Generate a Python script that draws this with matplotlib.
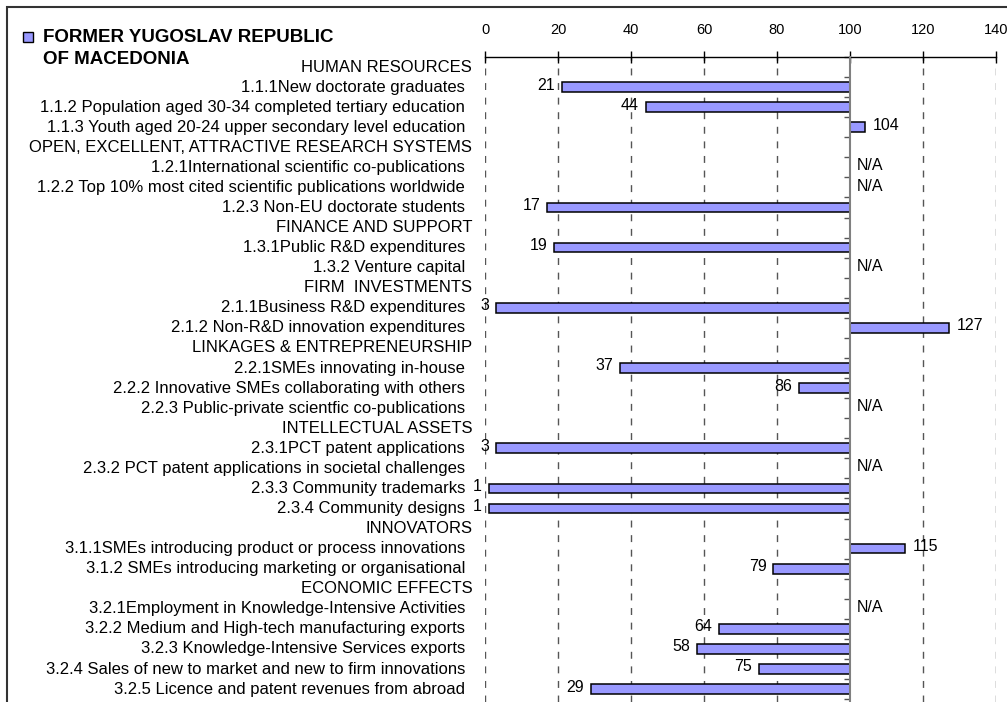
import numpy as np
import matplotlib
matplotlib.use("Agg")
import matplotlib.pyplot as plt
import matplotlib.transforms as mtransforms
from matplotlib.patches import Rectangle

plt.rcParams["font.family"] = ["Liberation Sans", "DejaVu Sans"]

# rows from top to bottom; headers carry no value, None marks N/A
row_labels = [
    "HUMAN RESOURCES",
    "1.1.1New doctorate graduates",
    "1.1.2 Population aged 30-34 completed tertiary education",
    "1.1.3 Youth aged 20-24 upper secondary level education",
    "OPEN, EXCELLENT, ATTRACTIVE RESEARCH SYSTEMS",
    "1.2.1International scientific co-publications",
    "1.2.2 Top 10% most cited scientific publications worldwide",
    "1.2.3 Non-EU doctorate students",
    "FINANCE AND SUPPORT",
    "1.3.1Public R&D expenditures",
    "1.3.2 Venture capital",
    "FIRM  INVESTMENTS",
    "2.1.1Business R&D expenditures",
    "2.1.2 Non-R&D innovation expenditures",
    "LINKAGES & ENTREPRENEURSHIP",
    "2.2.1SMEs innovating in-house",
    "2.2.2 Innovative SMEs collaborating with others",
    "2.2.3 Public-private scientfic co-publications",
    "INTELLECTUAL ASSETS",
    "2.3.1PCT patent applications",
    "2.3.2 PCT patent applications in societal challenges",
    "2.3.3 Community trademarks",
    "2.3.4 Community designs",
    "INNOVATORS",
    "3.1.1SMEs introducing product or process innovations",
    "3.1.2 SMEs introducing marketing or organisational",
    "ECONOMIC EFFECTS",
    "3.2.1Employment in Knowledge-Intensive Activities",
    "3.2.2 Medium and High-tech manufacturing exports",
    "3.2.3 Knowledge-Intensive Services exports",
    "3.2.4 Sales of new to market and new to firm innovations",
    "3.2.5 Licence and patent revenues from abroad",
]
is_header = [
    True, False, False, False,
    True, False, False, False,
    True, False, False,
    True, False, False,
    True, False, False, False,
    True, False, False, False, False,
    True, False, False,
    True, False, False, False, False, False,
]
row_values = [
    None, 21, 44, 104,
    None, None, None, 17,
    None, 19, None,
    None, 3, 127,
    None, 37, 86, None,
    None, 3, None, 1, 1,
    None, 115, 79,
    None, None, 64, 58, 75, 29,
]
x_ticks = [0, 20, 40, 60, 80, 100, 120, 140]
reference = 100
title_lines = ["FORMER YUGOSLAV REPUBLIC", "OF MACEDONIA"]

W, H = 1007, 702
fig = plt.figure(figsize=(W / 100, H / 100), dpi=100)

# outer frame (only left and top edges are visible in the crop)
fig.patches.append(Rectangle((7 / W, -0.1), 1.2, 1 - 7 / H + 0.1, transform=fig.transFigure,
                             fill=False, edgecolor="#333333", lw=1.5))

ax = fig.add_axes([485 / W, 0, 511 / W, (H - 57) / H])
n = len(row_labels)
y = np.arange(n)
ax.set_xlim(0, 140)
ax.set_ylim((H - 66) / 20.1, -(66 - 57) / 20.1)

# bars from 100 to value
for yi, v, hdr in zip(y, row_values, is_header):
    if hdr:
        continue
    if v is None:
        ax.annotate("N/A", (reference, yi), xytext=(5, 1), textcoords="offset points",
                    ha="left", va="center", fontsize=11.5)
        continue
    ax.barh(yi, v - reference, left=reference, height=0.48, color="#9999FF",
            edgecolor="black", lw=1.1, zorder=3)
    if v < reference:
        ax.annotate(str(v), (v, yi), xytext=(-5, 1.5), textcoords="offset points",
                    ha="right", va="center", fontsize=11.5)
    else:
        ax.annotate(str(v), (v, yi), xytext=(6, 1.5), textcoords="offset points",
                    ha="left", va="center", fontsize=11.5)

# category labels
trans = mtransforms.blended_transform_factory(ax.transAxes, ax.transData)
for yi, lab, hdr in zip(y, row_labels, is_header):
    xpos = -0.025 if hdr else -0.039
    ax.text(xpos, yi, lab, transform=trans, ha="right", va="center", fontsize=12)

# dashed gridlines
for t in x_ticks:
    if t != reference:
        ax.axvline(t, color="#555555", lw=1, ls=(0, (5, 5.5)), zorder=0)

ax.xaxis.tick_top()
ax.set_xticks(x_ticks)
ax.tick_params(axis="x", direction="inout", length=9, width=1, pad=10, labelsize=10.5)
ax.set_yticks(np.arange(-0.5, n, 1))
ax.set_yticklabels([])
ax.tick_params(axis="y", direction="out", length=4, width=1, color="#555555")

for s in ["right", "bottom"]:
    ax.spines[s].set_visible(False)
ax.spines["top"].set_linewidth(1)
ax.spines["left"].set_position(("data", reference))
ax.spines["left"].set_color("#808080")
ax.spines["left"].set_linewidth(1.5)
ax.spines["left"].set_zorder(4)

# title with legend swatch
fig.patches.append(Rectangle((23 / W, 1 - 42 / H), 10 / W, 10 / H, transform=fig.transFigure,
                             facecolor="#9999FF", edgecolor="black", lw=1))
fig.text(43 / W, 1 - 37 / H, title_lines[0], ha="left", va="center", fontsize=13.5, fontweight="bold")
fig.text(43 / W, 1 - 60 / H, title_lines[1], ha="left", va="center", fontsize=13.5, fontweight="bold")

fig.savefig("out.png", dpi=100)
